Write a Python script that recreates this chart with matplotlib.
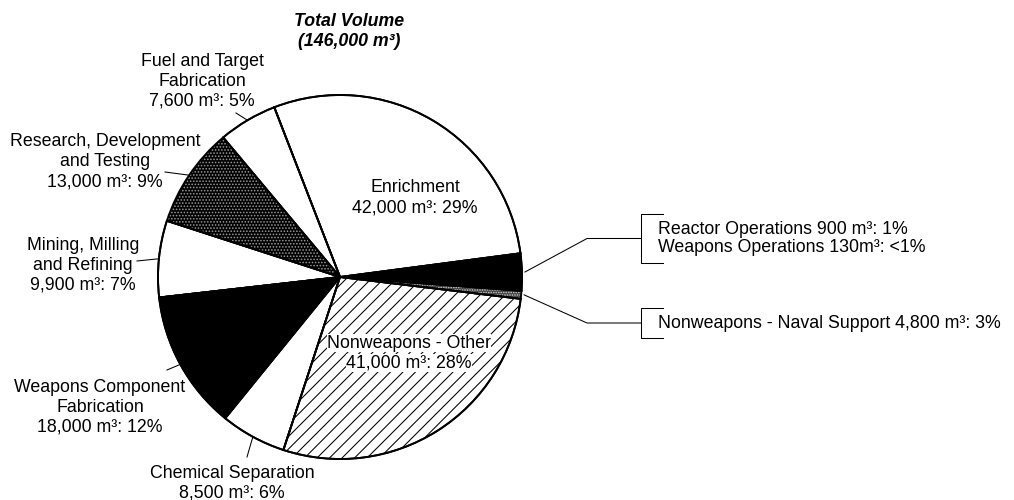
import numpy as np
import matplotlib
matplotlib.use("Agg")
import matplotlib.pyplot as plt

plt.rcParams['font.family'] = ['Liberation Sans', 'DejaVu Sans']
plt.rcParams['hatch.linewidth'] = 1.0

# slices, counter-clockwise starting from the thin stippled one on the right
slice_names = ['Reactor + Weapons Operations', 'Nonweapons - Naval Support', 'Enrichment',
               'Fuel and Target Fabrication', 'Research, Development and Testing',
               'Mining, Milling and Refining', 'Weapons Component Fabrication',
               'Chemical Separation', 'Nonweapons - Other']
volumes = [1030, 4800, 42000, 7600, 13000, 9900, 18000, 8500, 41000]
fills = ['#404040', 'black', 'white', 'white', 'black', 'white', 'black', 'white', 'white']
hatches = ['.....', None, None, None, '....', None, None, None, '//']
dot_colors = ['#d0d0d0', None, None, None, '#9a9a9a', None, None, None, None]

title_lines = ['Total Volume', '(146,000 m³)']

# outside labels: (slice index, text lines, centre x, first line y, leader end)
outside_labels = [
    (3, ['Fuel and Target', 'Fabrication', '7,600 m³: 5%'], 202, 61, (236, 113)),
    (4, ['Research, Development', 'and Testing', '13,000 m³: 9%'], 105, 142, (165, 172)),
    (5, ['Mining, Milling', 'and Refining', '9,900 m³: 7%'], 83, 245, (137, 261)),
    (6, ['Weapons Component', 'Fabrication', '18,000 m³: 12%'], 100, 387, (167, 370)),
    (7, ['Chemical Separation', '8,500 m³: 6%'], 232, 473, (247, 457)),
]
inside_labels = [
    (['Enrichment', '42,000 m³: 29%'], 415, 188, False),
    (['Nonweapons - Other', '41,000 m³: 28%'], 409, 343, True),
]
# bracket callouts: (slice index, text lines, bracket top y, bracket bottom y)
callouts = [
    (1, ['Reactor Operations 900 m³: 1%', 'Weapons Operations 130m³: <1%'], 214, 263),
    (0, ['Nonweapons - Naval Support 4,800 m³: 3%'], 308, 338),
]

W, H = 1014, 500
DPI = 75
fig = plt.figure(figsize=(W / DPI, H / DPI), dpi=DPI)
ax = fig.add_axes([0, 0, 1, 1])

cx, cy, r = 340, 277, 182
start = -6.9
FS = 17
LINE = 20


def Y(y):
    return H - y


wedges, _ = ax.pie(volumes, colors=fills, startangle=start, center=(cx, Y(cy)), radius=r,
                   wedgeprops=dict(edgecolor='black', linewidth=1.8))
for w, h, dc in zip(wedges, hatches, dot_colors):
    if h:
        w.set_hatch(h)
    if dc:
        # light speckle: hatch colour follows edge colour
        w.set_edgecolor(dc)
        w.set_linewidth(0)
# outlines on top
ax.pie(volumes, startangle=start, center=(cx, Y(cy)), radius=r,
       wedgeprops=dict(edgecolor='black', linewidth=1.8, fill=False))


def edge_point(i):
    w = wedges[i]
    a = np.deg2rad((w.theta1 + w.theta2) / 2)
    return cx + r * np.cos(a), Y(cy) + r * np.sin(a)


for t, y in zip(title_lines, [22, 42]):
    ax.text(349, Y(y), t, ha='center', va='center', fontsize=FS, fontweight='bold', style='italic')

for i, lines, x, y0, end in outside_labels:
    for k, t in enumerate(lines):
        ax.text(x, Y(y0 + k * LINE), t, ha='center', va='center', fontsize=FS)
    px, py = edge_point(i)
    ax.plot([end[0], px], [Y(end[1]), py], color='black', lw=1.0)

for lines, x, y0, boxed in inside_labels:
    for k, t in enumerate(lines):
        kw = {}
        if boxed:
            kw['bbox'] = dict(facecolor='white', edgecolor='none', pad=0.3)
        ax.text(x, Y(y0 + k * LINE), t, ha='center', va='center', fontsize=FS, **kw)

bx, tick_x, knee_x = 641, 663, 587
for i, lines, top, bot in callouts:
    mid = (top + bot) / 2
    px, py = edge_point(i)
    ax.plot([px + 3, knee_x, bx], [py, Y(mid), Y(mid)], color='black', lw=1.0)
    ax.plot([tick_x, bx, bx, tick_x], [Y(top), Y(top), Y(bot), Y(bot)], color='black', lw=1.0)
    n = len(lines)
    for k, t in enumerate(lines):
        ax.text(658, Y(mid + (k - (n - 1) / 2) * 17.5), t, ha='left', va='center', fontsize=FS)

ax.set_xlim(0, W)
ax.set_ylim(0, H)
ax.axis('off')

fig.savefig('out.png', dpi=DPI)
